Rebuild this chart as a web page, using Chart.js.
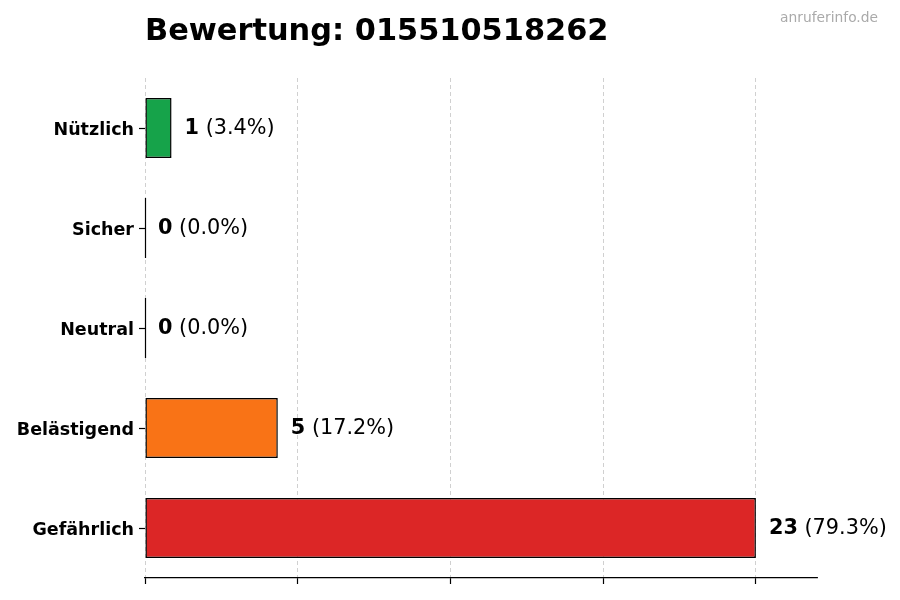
<!DOCTYPE html>
<html>
<head>
<meta charset="utf-8">
<script src="https://cdn.jsdelivr.net/npm/chart.js@4.4.1/dist/chart.umd.min.js"></script>
<style>
  html, body { margin: 0; padding: 0; background: #fff; }
  #wrap { width: 900px; height: 600px; position: relative; }
</style>
</head>
<body>
<div id="wrap"><canvas id="c"></canvas></div>
<script>
const titleText = 'Bewertung: 015510518262';
const watermark = 'anruferinfo.de';
const categories = ['Nützlich', 'Sicher', 'Neutral', 'Belästigend', 'Gefährlich'];
const counts = [1, 0, 0, 5, 23];
const barColors = ['#16a34a', '#3b82f6', '#9ca3af', '#f97316', '#dc2626'];
const xTicks = [0, 5.75, 11.5, 17.25, 23];
const xMax = 25.3;

const FONT = "'DejaVu Sans', 'Liberation Sans', sans-serif";
const total = counts.reduce((a, b) => a + b, 0);

const decorPlugin = {
  id: 'decor',
  afterDraw(chart) {
    const ctx = chart.ctx;
    const meta = chart.getDatasetMeta(0);
    const xs = chart.scales.x;
    ctx.save();
    // zero-width bars: draw their outline as a line
    meta.data.forEach((bar, i) => {
      if (counts[i] === 0) {
        const x0 = xs.getPixelForValue(0);
        const h = bar.height;
        ctx.strokeStyle = '#000';
        ctx.lineWidth = 1.2;
        ctx.beginPath();
        ctx.moveTo(x0 + 0.5, bar.y - h / 2);
        ctx.lineTo(x0 + 0.5, bar.y + h / 2);
        ctx.stroke();
      }
    });
    // value labels
    meta.data.forEach((bar, i) => {
      const v = counts[i];
      const pct = total ? (v / total * 100).toFixed(1) : '0.0';
      let x = bar.x + 13;
      const y = bar.y + 1;
      ctx.textBaseline = 'middle';
      ctx.textAlign = 'left';
      ctx.fillStyle = '#000';
      ctx.font = 'bold 20.8px ' + FONT;
      const s1 = String(v);
      ctx.fillText(s1, x, y);
      x += ctx.measureText(s1).width;
      ctx.font = '20.8px ' + FONT;
      ctx.fillText(' (' + pct + '%)', x, y);
    });
    // title
    ctx.textBaseline = 'alphabetic';
    ctx.textAlign = 'left';
    ctx.fillStyle = '#000';
    ctx.font = 'bold 30.4px ' + FONT;
    ctx.fillText(titleText, 145, 40);
    // watermark
    ctx.textAlign = 'right';
    ctx.fillStyle = '#aaaaaa';
    ctx.font = '13.8px ' + FONT;
    ctx.fillText(watermark, 878, 22);
    ctx.restore();
  }
};

new Chart(document.getElementById('c'), {
  type: 'bar',
  data: {
    labels: categories,
    datasets: [{
      data: counts,
      backgroundColor: barColors,
      borderColor: '#000',
      borderWidth: 1.5,
      borderSkipped: false,
      barPercentage: 0.6,
      categoryPercentage: 1.0
    }]
  },
  options: {
    indexAxis: 'y',
    responsive: true,
    maintainAspectRatio: false,
    animation: false,
    devicePixelRatio: 1,
    layout: { padding: { top: 78, right: 83, bottom: 0, left: 0 } },
    plugins: {
      legend: { display: false },
      title: { display: false },
      tooltip: { enabled: false }
    },
    scales: {
      x: {
        type: 'linear',
        min: 0,
        max: xMax,
        z: 1,
        afterBuildTicks(scale) { scale.ticks = xTicks.map(v => ({ value: v })); },
        afterFit(scale) { scale.height = 22; },
        ticks: { display: false },
        grid: {
          display: true,
          color: 'rgba(170,170,170,0.7)',
          lineWidth: 0.8,
          drawTicks: true,
          tickLength: 6,
          tickColor: '#000',
          tickWidth: 1.2,
          tickBorderDash: []
        },
        border: { display: true, color: '#000', width: 1.2, dash: [4, 3] }
      },
      y: {
        type: 'category',
        offset: true,
        afterFit(scale) { scale.width = 145; },
        ticks: {
          color: '#000',
          font: { family: FONT, size: 17.5, weight: 'bold' },
          padding: 5,
          labelOffset: 2
        },
        grid: {
          display: true,
          offset: false,
          drawOnChartArea: false,
          drawTicks: true,
          tickLength: 6,
          tickColor: '#000',
          tickWidth: 1.2
        },
        border: { display: false }
      }
    }
  },
  plugins: [decorPlugin]
});
</script>
</body>
</html>
